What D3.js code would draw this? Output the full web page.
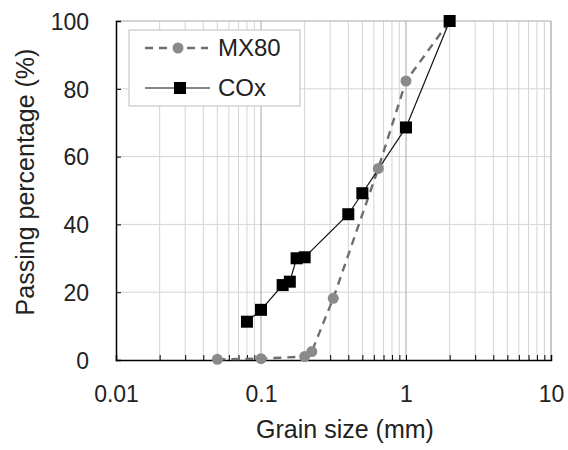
<!DOCTYPE html>
<html>
<head>
<meta charset="utf-8">
<script src="https://cdn.jsdelivr.net/npm/d3@7"></script>
<style>
  body { margin: 0; background: #fff; }
  text { font-family: Arial, "Liberation Sans", sans-serif; fill: #222; }
</style>
</head>
<body>
<div class="canvas"></div>
<script>
const width = 568;
const height = 450;

// data
const mxSize = [0.05, 0.1, 0.2, 0.224, 0.315, 0.644, 1, 2];
const mxPass = [0.2, 0.4, 1.0, 2.5, 18.2, 56.5, 82.3, 100];
const coxSize = [0.08, 0.1, 0.141, 0.158, 0.176, 0.2, 0.4, 0.5, 1, 2];
const coxPass = [11.3, 14.8, 22.1, 23.1, 30.0, 30.3, 43.0, 49.2, 68.6, 100];
const xTicks = [0.01, 0.1, 1, 10];
const yTicks = [0, 20, 40, 60, 80, 100];

const pLeft = 116, pRight = 551, pTop = 21, pBottom = 360;

// Scales
const xScale = d3.scaleLog().domain([0.01, 10]).range([pLeft, pRight]);
const yScale = d3.scaleLinear().domain([0, 100]).range([pBottom, pTop]);

const svg = d3
  .select(".canvas")
  .append("svg")
  .attr("width", width)
  .attr("height", height);

// minor and major vertical grid lines
const minor = [];
for (let e = -2; e < 1; e++) {
  for (let k = 2; k <= 9; k++) minor.push(k * Math.pow(10, e));
}
svg.append("g")
  .selectAll("line")
  .data(minor)
  .enter()
  .append("line")
  .attr("x1", d => xScale(d))
  .attr("x2", d => xScale(d))
  .attr("y1", pTop)
  .attr("y2", pBottom)
  .attr("stroke", "#d4d4d4")
  .attr("stroke-width", 1);

svg.append("g")
  .selectAll("line")
  .data(yTicks.slice(1))
  .enter()
  .append("line")
  .attr("x1", pLeft)
  .attr("x2", pRight)
  .attr("y1", d => yScale(d))
  .attr("y2", d => yScale(d))
  .attr("stroke", "#d4d4d4")
  .attr("stroke-width", 1);

svg.append("g")
  .selectAll("line")
  .data(xTicks.slice(1))
  .enter()
  .append("line")
  .attr("x1", d => xScale(d))
  .attr("x2", d => xScale(d))
  .attr("y1", pTop)
  .attr("y2", pBottom)
  .attr("stroke", "#a6a6a6")
  .attr("stroke-width", 1);

// top and right frame
svg.append("path")
  .attr("d", `M${pLeft},${pTop}H${pRight}V${pBottom}`)
  .attr("fill", "none")
  .attr("stroke", "#bdbdbd");

// Axes
const xAxis = d3.axisBottom(xScale)
  .tickValues(xTicks.concat(minor))
  .tickSize(-5)
  .tickFormat(d => (xTicks.includes(d) ? d3.format("~g")(d) : ""));
const yAxis = d3.axisLeft(yScale)
  .tickValues(yTicks)
  .tickSize(-5);

const gx = svg.append("g")
  .attr("transform", `translate(0,${pBottom})`)
  .call(xAxis);
gx.select(".domain").attr("stroke", "#000").attr("stroke-width", 1.5);
gx.selectAll(".tick line").attr("stroke", "#000");
gx.selectAll("text")
  .attr("dy", 0)
  .attr("y", 42)
  .style("font-size", "23px")
  .attr("fill", "#222");

const gy = svg.append("g")
  .attr("transform", `translate(${pLeft},0)`)
  .call(yAxis);
gy.select(".domain").attr("stroke", "#000").attr("stroke-width", 1.5);
gy.selectAll(".tick line").attr("stroke", "#000");
gy.selectAll("text")
  .attr("x", -27)
  .attr("dy", "0.36em")
  .style("font-size", "23px")
  .attr("fill", "#222");

// Axis titles
svg.append("text")
  .attr("x", 345)
  .attr("y", 438)
  .attr("text-anchor", "middle")
  .style("font-size", "25px")
  .text("Grain size (mm)");
svg.append("text")
  .attr("transform", "translate(34,182) rotate(-90)")
  .attr("text-anchor", "middle")
  .style("font-size", "25px")
  .text("Passing percentage (%)");

// Series
const mx = mxSize.map((s, i) => [s, mxPass[i]]);
const cox = coxSize.map((s, i) => [s, coxPass[i]]);
const line = d3.line().x(d => xScale(d[0])).y(d => yScale(d[1]));

svg.append("path")
  .attr("d", line(mx))
  .attr("fill", "none")
  .attr("stroke", "#6e6e6e")
  .attr("stroke-width", 2.4)
  .attr("stroke-dasharray", "8,6");

svg.append("path")
  .attr("d", line(cox))
  .attr("fill", "none")
  .attr("stroke", "#111")
  .attr("stroke-width", 1.2);

svg.selectAll("circle.mx")
  .data(mx)
  .enter()
  .append("circle")
  .attr("class", "mx")
  .attr("cx", d => xScale(d[0]))
  .attr("cy", d => yScale(d[1]))
  .attr("r", 5.5)
  .attr("fill", "#8a8a8a");

svg.selectAll("rect.cox")
  .data(cox)
  .enter()
  .append("rect")
  .attr("class", "cox")
  .attr("x", d => xScale(d[0]) - 6)
  .attr("y", d => yScale(d[1]) - 6)
  .attr("width", 12)
  .attr("height", 12)
  .attr("fill", "#000");

// Legend
const lg = svg.append("g");
lg.append("rect")
  .attr("x", 129).attr("y", 30)
  .attr("width", 171).attr("height", 76)
  .attr("fill", "#fff")
  .attr("stroke", "#bdbdbd");
lg.append("line")
  .attr("x1", 145).attr("x2", 208).attr("y1", 48).attr("y2", 48)
  .attr("stroke", "#6e6e6e").attr("stroke-width", 2.4)
  .attr("stroke-dasharray", "8,6");
lg.append("circle")
  .attr("cx", 178).attr("cy", 48).attr("r", 5.5)
  .attr("fill", "#8a8a8a");
lg.append("line")
  .attr("x1", 145).attr("x2", 210).attr("y1", 88).attr("y2", 88)
  .attr("stroke", "#111").attr("stroke-width", 1.2);
lg.append("rect")
  .attr("x", 174).attr("y", 82).attr("width", 12).attr("height", 12)
  .attr("fill", "#000");
lg.append("text")
  .attr("x", 218).attr("y", 56)
  .style("font-size", "24px")
  .text("MX80");
lg.append("text")
  .attr("x", 218).attr("y", 96)
  .style("font-size", "24px")
  .text("COx");
</script>
</body>
</html>
